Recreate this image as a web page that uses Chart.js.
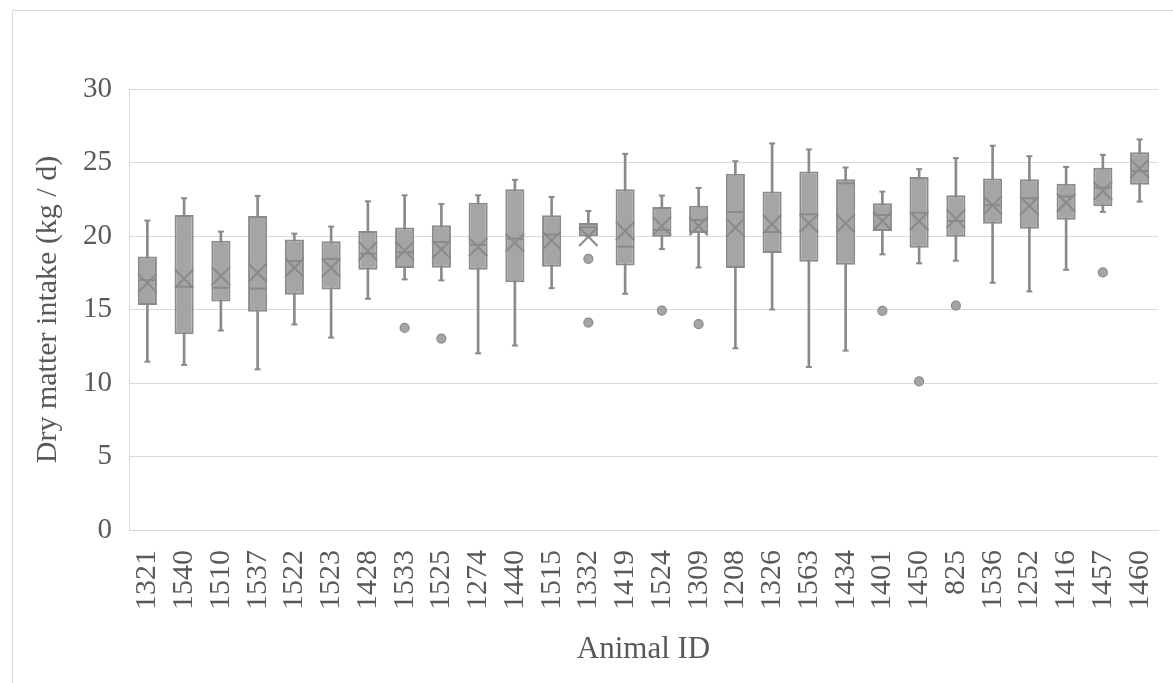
<!DOCTYPE html>
<html><head><meta charset="utf-8">
<script src="https://cdn.jsdelivr.net/npm/chart.js@4.4.1/dist/chart.umd.min.js"></script>
<style>html,body{margin:0;padding:0;background:#fff}#wrap{width:1173px;height:683px;position:relative}</style>
</head><body><div id="wrap"><canvas id="c"></canvas></div>
<script>
const animalIds = ['1321','1540','1510','1537','1522','1523','1428','1533','1525','1274','1440','1515','1332','1419','1524','1309','1208','1326','1563','1434','1401','1450','825','1536','1252','1416','1457','1460'];
const minVals    = [11.45,11.23,13.57,10.93,13.98,13.09,15.73,17.05,16.98,12.02,12.55,16.45,19.98,16.07,19.11,17.86,12.36,15.00,11.09,12.20,18.75,18.14,18.32,16.82,16.23,17.70,21.64,22.34];
const q1Vals     = [15.30,13.32,15.55,14.84,16.00,16.36,17.70,17.82,17.84,17.70,16.86,17.91,19.98,18.00,19.95,20.20,17.82,18.84,18.25,18.05,20.34,19.20,19.95,20.84,20.50,21.11,22.02,23.48];
const medianVals = [17.00,16.55,16.48,16.43,18.30,18.45,18.80,18.90,19.59,19.40,19.82,20.11,20.60,19.27,20.41,21.09,21.64,20.27,21.48,23.59,21.43,21.59,21.02,22.09,22.57,22.68,23.30,24.43];
const meanVals   = [16.80,17.10,17.27,17.50,17.84,17.84,18.98,19.00,19.09,19.25,19.55,19.70,19.95,20.34,20.68,20.68,20.57,20.80,20.86,20.86,21.02,21.02,21.18,22.09,22.05,22.27,23.07,24.59];
const q3Vals     = [18.60,21.43,19.68,21.36,19.77,19.64,20.34,20.57,20.73,22.27,23.18,21.41,20.89,23.18,21.98,22.05,24.23,23.02,24.39,23.86,22.23,24.02,22.77,23.91,23.86,23.55,24.64,25.70];
const maxVals    = [21.05,22.57,20.30,22.73,20.16,20.64,22.36,22.77,22.18,22.77,23.82,22.66,21.70,25.59,22.75,23.27,25.09,26.30,25.89,24.66,23.02,24.55,25.30,26.14,25.43,24.70,25.52,26.57];
const outlierIds  = ['1533','1525','1332','1332','1524','1309','1401','1450','825','1457'];
const outlierVals = [13.75,13.02,18.45,14.11,14.93,14.00,14.91,10.11,15.27,17.52];
const yMin = 0, yMax = 30, yStep = 5;

const FONT = "'Liberation Serif', 'Times New Roman', serif";
const TXT = '#595959';
const GRID = '#d9d9d9';
const BOX_FILL = '#a5a5a5';
const LINE = '#8a8a8a';

const framePlugin = {
  id: 'frame',
  beforeDraw(chart) {
    const ctx = chart.ctx;
    ctx.save();
    ctx.fillStyle = '#fff';
    ctx.fillRect(0, 0, chart.width, chart.height);
    ctx.strokeStyle = GRID;
    ctx.lineWidth = 1;
    ctx.beginPath();
    ctx.moveTo(12.5, chart.height);
    ctx.lineTo(12.5, 10.5);
    ctx.lineTo(chart.width, 10.5);
    ctx.stroke();
    ctx.restore();
  }
};

const pointDs = (data, style, radius, order, extra) => Object.assign({
  type: 'line', data, showLine: false, order,
  pointStyle: style, pointRadius: radius, pointHoverRadius: radius,
  pointBorderColor: LINE, pointBorderWidth: 2, pointBackgroundColor: BOX_FILL
}, extra || {});

new Chart(document.getElementById('c'), {
  type: 'bar',
  data: {
    labels: animalIds,
    datasets: [
      { type: 'bar', label: 'whisker', data: animalIds.map((_, i) => [minVals[i], maxVals[i]]),
        backgroundColor: LINE, borderWidth: 0, barThickness: 2, grouped: false, order: 10 },
      { type: 'bar', label: 'box', data: animalIds.map((_, i) => [q1Vals[i], q3Vals[i]]),
        backgroundColor: BOX_FILL, borderColor: LINE, borderWidth: 2, borderSkipped: false,
        barPercentage: 0.52, categoryPercentage: 1, grouped: false, order: 9 },
      pointDs(minVals, 'line', 3, 5),
      pointDs(maxVals, 'line', 3, 5),
      pointDs(medianVals, 'line', 8.5, 4),
      pointDs(meanVals, 'crossRot', 13, 3),
      pointDs(outlierIds.map((id, i) => ({ x: id, y: outlierVals[i] })), 'circle', 4.5, 2, { pointBorderWidth: 1.2 })
    ]
  },
  options: {
    responsive: true, maintainAspectRatio: false, animation: false, devicePixelRatio: 1,
    layout: { padding: { left: 12, top: 89, right: 7, bottom: 10 } },
    plugins: { legend: { display: false }, tooltip: { enabled: false } },
    scales: {
      x: {
        type: 'category', offset: true,
        grid: { display: false, drawTicks: false },
        border: { display: true, color: GRID },
        ticks: { color: TXT, font: { family: FONT, size: 30 }, minRotation: 90, maxRotation: 90, padding: 20, autoSkip: false },
        title: { display: true, text: 'Animal ID', color: TXT, font: { family: FONT, size: 31 }, padding: { top: 0, bottom: 5 } },
        afterFit(s) { s.height = 143; s.paddingLeft = 0; s.paddingRight = 0; }
      },
      y: {
        min: yMin, max: yMax,
        grid: { color: GRID, drawTicks: false },
        border: { display: true, color: GRID },
        ticks: { stepSize: yStep, color: TXT, font: { family: FONT, size: 29 }, padding: 17 },
        title: { display: true, text: 'Dry matter intake (kg / d)', color: TXT, font: { family: FONT, size: 30 }, padding: { top: 18, bottom: 0 } },
        afterFit(s) { s.width = 117; s.paddingTop = 0; s.paddingBottom = 0; }
      }
    }
  },
  plugins: [framePlugin]
});
</script></body></html>
